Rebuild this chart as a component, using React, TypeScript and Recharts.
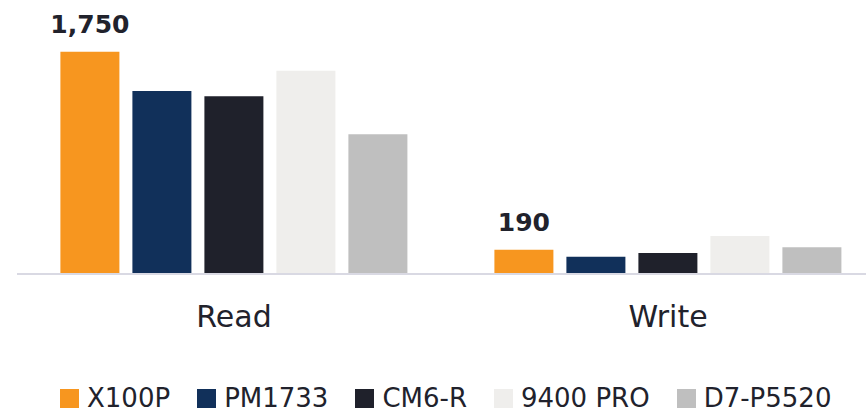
import React from "react";
import { BarChart, Bar, XAxis, YAxis, Legend, LabelList } from "recharts";

const categories = ["Read", "Write"];
const seriesNames = ["X100P", "PM1733", "CM6-R", "9400 PRO", "D7-P5520"];
const x100p = [1750, 190];
const pm1733 = [1440, 135];
const cm6r = [1400, 165];
const pro9400 = [1600, 300];
const d7p5520 = [1100, 210];
const colors = ["#f7961f", "#11305a", "#1f212b", "#efeeec", "#bfbfbf"];

const seriesValues = [x100p, pm1733, cm6r, pro9400, d7p5520];
const data = categories.map((cat, i) => {
  const row: Record<string, string | number> = { category: cat };
  seriesNames.forEach((name, s) => {
    row[name] = seriesValues[s][i];
  });
  return row;
});

const FONT = "'DejaVu Sans', Verdana, sans-serif";
const TEXT = "#21222c";

const withCommas = (v: unknown) =>
  String(v).replace(/\B(?=(\d{3})+(?!\d))/g, ",");

function LegendRow() {
  return (
    <div
      style={{
        display: "flex",
        alignItems: "center",
        height: 26,
        paddingLeft: 60,
        fontFamily: FONT,
        fontSize: 26,
        color: TEXT,
      }}
    >
      {seriesNames.map((name, i) => (
        <div
          key={name}
          style={{ display: "flex", alignItems: "center", marginRight: 27 }}
        >
          <span
            style={{
              width: 19,
              height: 19,
              background: colors[i],
              marginRight: 8,
              display: "inline-block",
            }}
          />
          <span style={{ lineHeight: "26px" }}>{name}</span>
        </div>
      ))}
    </div>
  );
}

export default function App() {
  return (
    <div
      style={{
        position: "absolute",
        left: 0,
        top: 0,
        width: 866,
        height: 412,
        overflow: "hidden",
        background: "#ffffff",
      }}
    >
      <BarChart
        width={885}
        height={412}
        data={data}
        margin={{ top: 20, right: 0, left: 17, bottom: 82 }}
        barCategoryGap="10%"
        barGap={13}
      >
        <XAxis
          dataKey="category"
          height={30}
          tickLine={false}
          tickSize={0}
          tickMargin={32}
          axisLine={{ stroke: "#d9d9e3", strokeWidth: 2 }}
          tick={{ fill: TEXT, fontSize: 30, fontFamily: FONT }}
        />
        <YAxis hide domain={[0, 2000]} />
        <Legend
          verticalAlign="bottom"
          content={() => <LegendRow />}
          wrapperStyle={{ top: 385, bottom: "auto", left: 0, width: 866 }}
        />
        {seriesNames.map((name, i) => (
          <Bar
            key={name}
            dataKey={name}
            fill={colors[i]}
            isAnimationActive={false}
          >
            {i === 0 && (
              <LabelList
                dataKey={name}
                position="top"
                offset={19}
                formatter={withCommas}
                style={{
                  fill: TEXT,
                  fontSize: 25,
                  fontWeight: 700,
                  fontFamily: FONT,
                }}
              />
            )}
          </Bar>
        ))}
      </BarChart>
    </div>
  );
}
